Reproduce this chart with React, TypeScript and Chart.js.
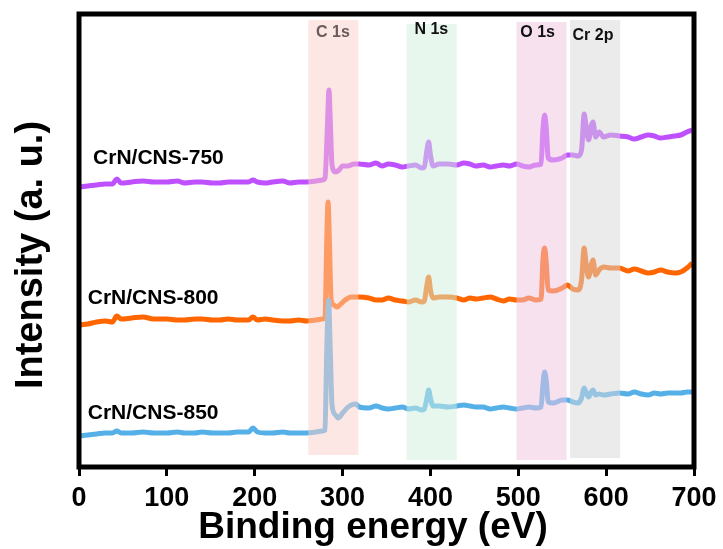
import React, { useEffect, useRef } from "react";
import { Chart, registerables } from "chart.js";

Chart.register(...registerables);

// Binding energy (eV) sample points per spectrum
const energy = [0, 10, 20, 30, 38, 43, 48, 60, 73, 85, 100, 112, 120, 132, 140, 152, 160, 170, 180, 193, 198, 203, 212, 220, 232, 240, 250, 259, 270, 277, 280];

// CrN/CNS-750
const e750 = [...energy, 283, 284.5, 286, 288, 292, 296, 300, 306, 313, 319, 330, 338, 345, 352, 360, 368, 375, 383, 390, 393, 396, 398, 400, 403, 410, 420, 430, 438, 445, 452, 460, 468, 475, 483, 490, 498, 505, 512, 520, 526, 528, 530, 532, 534, 540, 550, 556, 562, 568, 572, 575, 577, 580, 583, 585, 588, 592, 597, 605, 615, 625, 632, 640, 648, 655, 662, 670, 678, 685, 692, 698];
const i750 = [280, 281, 282, 283, 283, 288, 284, 285, 286, 285, 285, 286, 284, 285, 285, 284, 284, 285, 285, 285, 287, 285, 284, 285, 286, 284, 285, 285, 286, 287, 289,
  347, 377, 347, 302, 295, 297, 301, 301, 303, 303, 302, 304, 301, 303, 302, 300, 301, 302, 299, 300, 317, 325, 312, 301, 303, 303, 302, 304, 303, 301, 302, 300, 301, 302, 301, 303, 301, 300, 302, 303, 337, 352, 337, 309, 307, 309, 312, 312, 311, 317, 353, 342, 327, 341, 345, 330, 335, 330, 332, 331, 330, 328, 330, 332, 331, 329, 330, 331, 332, 335, 337];

// CrN/CNS-800
const e800 = [...energy, 282, 283.5, 285, 287, 290, 294, 298, 303, 310, 319, 330, 338, 345, 352, 360, 368, 375, 383, 390, 393, 396, 398, 400, 403, 410, 420, 430, 438, 445, 452, 460, 468, 475, 483, 490, 498, 505, 512, 520, 526, 528, 530, 532, 534, 540, 550, 556, 562, 568, 572, 575, 577, 580, 583, 585, 588, 592, 597, 605, 615, 625, 632, 640, 648, 655, 662, 670, 678, 685, 692, 698];
const i800 = [142, 143, 145, 146, 145, 151, 148, 149, 150, 148, 148, 147, 147, 148, 148, 147, 147, 148, 147, 147, 150, 147, 148, 147, 146, 146, 147, 146, 147, 148, 149,
  227, 265, 227, 167, 162, 160, 163, 167, 170, 170, 169, 167, 167, 169, 167, 166, 165, 167, 165, 166, 182, 190, 177, 169, 170, 170, 169, 167, 169, 168, 169, 170, 168, 166, 168, 167, 167, 169, 167, 168, 207, 219, 202, 177, 176, 179, 182, 178, 177, 187, 219, 205, 190, 202, 207, 192, 197, 200, 199, 199, 196, 198, 196, 194, 195, 197, 195, 194, 195, 199, 204];

// CrN/CNS-850
const e850 = [...energy, 282, 284, 286, 288, 292, 295, 300, 305, 310, 315, 319, 330, 338, 345, 352, 360, 368, 375, 383, 390, 393, 396, 398, 400, 403, 410, 420, 430, 438, 445, 452, 460, 468, 475, 483, 490, 498, 505, 512, 520, 526, 528, 530, 532, 534, 540, 550, 556, 562, 568, 572, 575, 577, 580, 583, 585, 588, 592, 597, 605, 615, 625, 632, 640, 648, 655, 662, 670, 678, 685, 692, 698];
const i850 = [31, 32, 33, 34, 34, 36, 34, 34, 35, 34, 34, 35, 34, 34, 35, 34, 34, 34, 35, 35, 39, 35, 34, 34, 35, 34, 34, 34, 35, 36, 37,
  117, 167, 117, 62, 52, 49, 54, 59, 62, 63, 60, 59, 61, 59, 58, 59, 60, 58, 59, 57, 58, 69, 77, 69, 61, 61, 60, 61, 62, 61, 60, 60, 58, 59, 60, 59, 58, 59, 60, 59, 60, 82, 95, 85, 65, 64, 67, 67, 65, 64, 69, 79, 75, 70, 75, 77, 72, 73, 72, 73, 74, 73, 75, 73, 72, 74, 73, 74, 74, 74, 75, 75];

const seriesNames = ["CrN/CNS-850", "CrN/CNS-800", "CrN/CNS-750"];
const seriesColors = ["#56b0e8", "#ff6600", "#bf50ff"];
const labelX = [10, 10, 16];
const labelY = [54, 169, 309];

// Element regions
const regionNames = ["C 1s", "N 1s", "O 1s", "Cr 2p"];
const regionStart = [261, 373, 498, 559];
const regionEnd = [318, 430, 555, 616];
const regionTop = [447, 443, 445, 447];
const regionBottom = [12, 7, 7, 9];
const regionFill = ["rgba(251,207,201,0.5)", "rgba(209,239,221,0.5)", "rgba(239,195,223,0.5)", "rgba(215,215,215,0.5)"];
const regionLabelX = [289, 401, 522, 585];
const regionLabelY = [434, 437, 434, 431];
const regionLabelColor = ["#6a5c5c", "#111", "#111", "#111"];

const xTicks = [0, 100, 200, 300, 400, 500, 600, 700];
const xTitle = "Binding energy (eV)";
const yTitle = "Intensity (a. u.)";

const FONT = "'Liberation Sans', Arial, sans-serif";

const decor = {
  id: "decor",
  afterDatasetsDraw(chart: any) {
    const { ctx, scales } = chart;
    const x = scales.x, y = scales.y;
    ctx.save();
    for (let i = 0; i < regionNames.length; i++) {
      const x0 = x.getPixelForValue(regionStart[i]);
      const x1 = x.getPixelForValue(regionEnd[i]);
      const y0 = y.getPixelForValue(regionTop[i]);
      const y1 = y.getPixelForValue(regionBottom[i]);
      ctx.fillStyle = regionFill[i];
      ctx.fillRect(x0, y0, x1 - x0, y1 - y0);
    }
    ctx.restore();
  },
  afterDraw(chart: any) {
    const { ctx, scales, chartArea } = chart;
    const x = scales.x, y = scales.y;
    ctx.save();
    ctx.font = `bold 16px ${FONT}`;
    ctx.textAlign = "center";
    ctx.textBaseline = "middle";
    for (let i = 0; i < regionNames.length; i++) {
      ctx.fillStyle = regionLabelColor[i];
      ctx.fillText(regionNames[i], x.getPixelForValue(regionLabelX[i]), y.getPixelForValue(regionLabelY[i]));
    }
    ctx.font = `bold 21px ${FONT}`;
    ctx.textAlign = "left";
    ctx.fillStyle = "#000";
    for (let i = 0; i < seriesNames.length; i++) {
      ctx.fillText(seriesNames[i], x.getPixelForValue(labelX[i]), y.getPixelForValue(labelY[i]));
    }
    // axis titles
    ctx.textBaseline = "alphabetic";
    ctx.textAlign = "center";
    ctx.font = `bold 37px ${FONT}`;
    ctx.fillText(xTitle, 373, 538);
    ctx.save();
    ctx.translate(42, 255);
    ctx.rotate(-Math.PI / 2);
    ctx.font = `bold 38px ${FONT}`;
    ctx.fillText(yTitle, 0, 0);
    ctx.restore();
    // frame
    ctx.strokeStyle = "#000";
    ctx.lineWidth = 5;
    ctx.strokeRect(chartArea.left, chartArea.top, chartArea.right - chartArea.left, chartArea.bottom - chartArea.top);
    ctx.restore();
  },
};

function toPoints(xs: number[], ys: number[]) {
  return xs.map((v, i) => ({ x: v, y: ys[i] }));
}

export default function App() {
  const ref = useRef<HTMLCanvasElement>(null);
  useEffect(() => {
    if (!ref.current) return;
    const series = [toPoints(e850, i850), toPoints(e800, i800), toPoints(e750, i750)];
    const chart = new Chart(ref.current, {
      type: "line",
      data: {
        datasets: series.map((d, i) => ({
          label: seriesNames[i],
          data: d,
          borderColor: seriesColors[i],
          borderWidth: 5,
          pointRadius: 0,
          cubicInterpolationMode: "monotone" as const,
          fill: false,
        })),
      },
      options: {
        animation: false,
        responsive: false,
        events: [],
        layout: { padding: { top: 14, right: 29, bottom: 0, left: 0 } },
        plugins: { legend: { display: false }, tooltip: { enabled: false } },
        scales: {
          x: {
            type: "linear",
            min: 0,
            max: 700,
            afterFit: (s: any) => { s.height = 82; },
            afterBuildTicks: (s: any) => { s.ticks = xTicks.map((v) => ({ value: v })); },
            border: { display: false },
            grid: { drawOnChartArea: false, drawTicks: true, tickLength: 9, lineWidth: 3, color: "#000" },
            ticks: { color: "#000", padding: 6, maxRotation: 0, font: { family: FONT, size: 27, weight: "bold" } },
            title: { display: false },
          },
          y: {
            type: "linear",
            min: 0,
            max: 453,
            afterFit: (s: any) => { s.width = 79; },
            border: { display: false },
            grid: { display: false },
            ticks: { display: false },
            title: { display: false },
          },
        },
      },
      plugins: [decor],
    });
    return () => chart.destroy();
  }, []);
  return (
    <div style={{ position: "fixed", left: 0, top: 0, width: 723, height: 549, background: "#fff" }}>
      <canvas ref={ref} width={723} height={549} style={{ display: "block", width: 723, height: 549 }} />
    </div>
  );
}
